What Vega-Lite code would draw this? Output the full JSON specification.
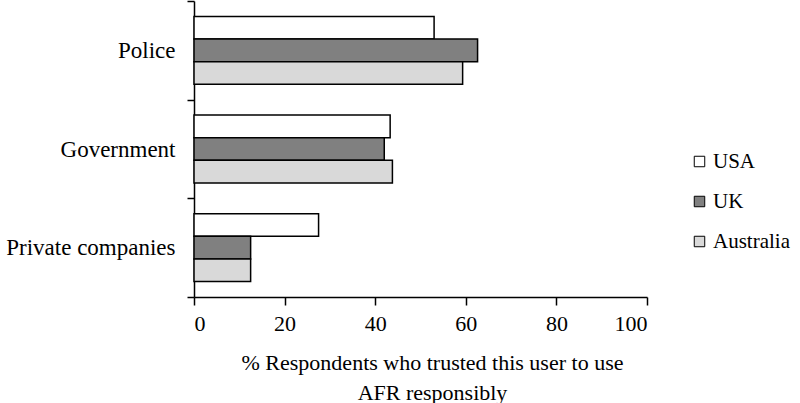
{
  "$schema": "https://vega.github.io/schema/vega-lite/v6.json",
  "width": 453,
  "height": 296,
  "autosize": "none",
  "padding": {"left": 194, "top": 1, "right": 153, "bottom": 106},
  "config": {
    "view": {"stroke": null},
    "font": "Times New Roman, Liberation Serif, DejaVu Serif, serif"
  },
  "data": {
    "values": [
      {"user": "Police", "country": "USA", "pct": 53.0},
      {"user": "Police", "country": "UK", "pct": 62.6},
      {"user": "Police", "country": "Australia", "pct": 59.3},
      {"user": "Government", "country": "USA", "pct": 43.3},
      {"user": "Government", "country": "UK", "pct": 42.0},
      {"user": "Government", "country": "Australia", "pct": 43.8},
      {"user": "Private companies", "country": "USA", "pct": 27.5},
      {"user": "Private companies", "country": "UK", "pct": 12.5},
      {"user": "Private companies", "country": "Australia", "pct": 12.5}
    ]
  },
  "mark": {"type": "bar", "stroke": "black", "strokeWidth": 1.5},
  "encoding": {
    "y": {
      "field": "user",
      "type": "nominal",
      "sort": ["Police", "Government", "Private companies"],
      "scale": {"paddingInner": 0, "paddingOuter": 0},
      "axis": {
        "title": null,
        "tickBand": "extent",
        "domainColor": "black",
        "domainWidth": 1.5,
        "tickColor": "black",
        "tickWidth": 1.5,
        "tickSize": 7,
        "labelFontSize": 23,
        "labelColor": "black",
        "labelPadding": 12
      }
    },
    "yOffset": {
      "field": "country",
      "type": "nominal",
      "sort": ["USA", "UK", "Australia"],
      "scale": {"paddingInner": 0, "paddingOuter": 0.68}
    },
    "x": {
      "field": "pct",
      "type": "quantitative",
      "scale": {"domain": [0, 100]},
      "axis": {
        "grid": false,
        "values": [0, 20, 40, 60, 80, 100],
        "domainColor": "black",
        "domainWidth": 1.5,
        "tickColor": "black",
        "tickWidth": 1.5,
        "tickSize": 8,
        "labelFontSize": 22,
        "labelColor": "black",
        "labelPadding": 8,
        "title": ["% Respondents  who  trusted  this  user  to use", "AFR responsibly"],
        "titleFontSize": 22,
        "titleFontWeight": "normal",
        "titleColor": "black",
        "titleX": 238,
        "titlePadding": 18,
        "titleLineHeight": 30
      }
    },
    "fill": {
      "field": "country",
      "type": "nominal",
      "scale": {"domain": ["USA", "UK", "Australia"], "range": ["#ffffff", "#808080", "#d9d9d9"]},
      "legend": {
        "title": null,
        "orient": "none",
        "legendX": 495,
        "legendY": 150,
        "symbolType": "square",
        "symbolSize": 110,
        "symbolStrokeColor": "black",
        "symbolStrokeWidth": 1,
        "symbolOpacity": 1,
        "labelFontSize": 21,
        "labelColor": "black",
        "labelOffset": 3,
        "rowPadding": 18
      }
    }
  }
}
